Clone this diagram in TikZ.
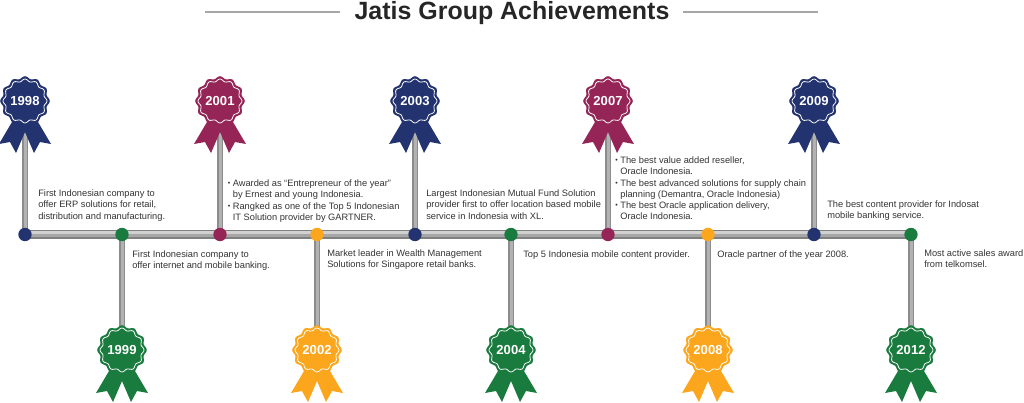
\documentclass[tikz,border=0pt]{standalone}
\usepackage{fontspec}
\setmainfont{Liberation Sans}
\usetikzlibrary{backgrounds}

\definecolor{navy}{HTML}{22336F}
\definecolor{crimson}{HTML}{962557}
\definecolor{leaf}{HTML}{1A7B3E}
\definecolor{amber}{HTML}{FBA61C}
\definecolor{ink}{HTML}{333333}

\newcommand{\itemmark}{\makebox[3.6pt][l]{\raisebox{.5pt}{\fontsize{5}{5}\selectfont\textbullet}}}
\newcommand{\itemgap}{\hspace*{3.6pt}}

\tikzset{
  note/.style={anchor=north west,inner sep=0pt,align=left,text=ink,font=\fontsize{6.6}{8}\selectfont},
  yearlabel/.style={inner sep=0pt,text=white,font=\bfseries\fontsize{9.3}{10}\selectfont},
  yeardot/.style={circle,inner sep=0pt,minimum size=9.5pt},
  barline/.style={line width=6pt,color=black!50,
    postaction={draw,color=black!35,line width=4.2pt,transform canvas={yshift=.6pt}},
    postaction={draw,color=black!18,line width=2pt,transform canvas={yshift=1.3pt}}},
  stemline/.style={line width=3.6pt,color=black!45,
    postaction={draw,color=black!30,line width=2pt,transform canvas={xshift=.3pt}}},
  titleline/.style={line width=1.1pt,color=black!35}
}

\begin{document}
\begin{tikzpicture}[x=0.25mm,y=-0.25mm]
\useasboundingbox (0,0) rectangle (1024,402);

% title
\node[inner sep=0pt,text=black!85,font=\bfseries\fontsize{17.75}{20}\selectfont] (title) at (512,13) {Jatis Group Achievements};
\coordinate (ruleA) at (205,12);
\coordinate (ruleB) at (340,12);
\coordinate (ruleC) at (683,12);
\coordinate (ruleD) at (818,12);
\draw[titleline] (ruleA)--(ruleB);
\draw[titleline] (ruleC)--(ruleD);

% badges and dots
\foreach \yr/\px/\py/\col in {1998/25/101/navy,1999/122/350/leaf,2001/220/101/crimson,2002/317/350/amber,2003/415/101/navy,2004/511/350/leaf,2007/608/101/crimson,2008/708/350/amber,2009/814/101/navy,2012/911/350/leaf}
{
  \node[yeardot,fill=\col] (dot\yr) at (\px,234.5) {};
  \begin{scope}[shift={(\px,\py)}]
    \fill[\col] (-13,21)--(-26,43)--(-15,41)--(-9,52)--(0,31)--(9,52)--(15,41)--(26,43)--(13,21)--cycle;
    \fill[\col] plot[smooth,domain=0:360,samples=97,variable=\t] ({(23.6+1.2*cos(12*\t))*cos(\t)},{(23.6+1.2*cos(12*\t))*sin(\t)});
    \draw[white,line width=.55pt] plot[smooth,domain=0:360,samples=97,variable=\t] ({(20.8+1.2*cos(12*\t))*cos(\t)},{(20.8+1.2*cos(12*\t))*sin(\t)});
  \end{scope}
  \node[yearlabel] (year\yr) at (\px,\py) {\yr};
}

% timeline
\begin{scope}[on background layer]
  \foreach \yr in {1998,1999,2001,2002,2003,2004,2007,2008,2009,2012}
    \draw[stemline] (dot\yr.center)--(year\yr.center);
  \draw[barline] (dot1998.center)--(dot2012.center);
\end{scope}

% texts
\node[note] (txt1998) at (38,189.5) {First Indonesian company to\\offer ERP solutions for retail,\\distribution and manufacturing.};
\node[note] (txt1999) at (132,250.3) {First Indonesian company to\\offer internet and mobile banking.};
\node[note] (txt2001) at (227.5,179.5) {\itemmark Awarded as “Entrepreneur of the year”\\\itemgap by Ernest and young Indonesia.\\\itemmark Rangked as one of the Top 5 Indonesian\\\itemgap IT Solution provider by GARTNER.};
\node[note] (txt2002) at (327,249.5) {Market leader in Wealth Management\\Solutions for Singapore retail banks.};
\node[note] (txt2003) at (426,189.5) {Largest Indonesian Mutual Fund Solution\\provider first to offer location based mobile\\service in Indonesia with XL.};
\node[note] (txt2004) at (523,250.3) {Top 5 Indonesia mobile content provider.};
\node[note] (txt2007) at (615,156.5) {\itemmark The best value added reseller,\\\itemgap Oracle Indonesia.\\\itemmark The best advanced solutions for supply chain\\\itemgap planning (Demantra, Oracle Indonesia)\\\itemmark The best Oracle application delivery,\\\itemgap Oracle Indonesia.};
\node[note] (txt2008) at (717,250.3) {Oracle partner of the year 2008.};
\node[note] (txt2009) at (827,200.5) {The best content provider for Indosat\\mobile banking service.};
\node[note] (txt2012) at (924,249.5) {Most active sales award\\from telkomsel.};

\end{tikzpicture}
\end{document}
